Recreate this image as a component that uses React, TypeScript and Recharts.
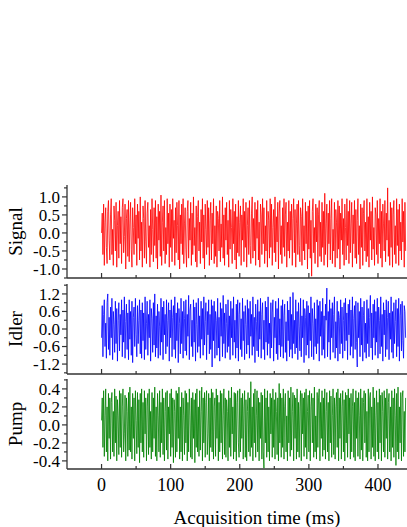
import { LineChart, Line, XAxis, YAxis, Label } from "recharts";

// three stacked noise traces sharing one time axis (one sample per ms)
const SAMPLE_MS = 1;

const signal = [
  0.0, 0.55, -0.6, 0.8, -0.9, 0.3, 0.7, -0.4, -0.85, 0.6, 0.9, -0.2, -0.75, 0.5, 0.95, -0.6, 0.1, -0.9, 0.75, 0.35,
  -0.5, 0.85, -0.95, 0.2, 0.6, -0.7, 0.9, -0.3, 0.45, -0.85, 0.7, 0.95, -0.55, -0.1, 0.8, -1.0, 0.4, 0.65, -0.65, 0.9,
  -0.8, 0.25, 0.85, -0.45, -0.95, 0.7, 0.15, -0.6, 0.95, -0.3, 0.5, -0.9, 0.8, -0.15, 0.6, -0.75, 1.0, -0.5, 0.3, -0.95,
  0.75, 0.4, -0.7, 0.9, -0.25, -0.85, 0.55, 0.85, -0.4, 0.2, -0.95, 0.65, -0.6, 0.95, 0.1, -0.8, 0.7, -0.35, 0.9, -0.7,
  0.45, -1.0, 0.8, -0.2, 0.6, -0.65, 1.05, -0.9, 0.3, 0.75, -0.5, 0.9, -0.85, 0.15, -0.6, 0.95, -0.3, 0.55, -0.95, 0.8,
  -0.4, 0.65, -0.8, 0.95, -0.15, 0.35, -0.9, 0.7, -0.55, 0.85, 0.2, -0.75, 0.9, -1.0, 0.5, -0.3, 0.8, -0.6, 0.95, -0.85,
  0.25, 0.7, -0.45, -0.95, 0.6, 0.9, -0.7, 0.4, -0.2, 0.85, -0.9, 0.55, -0.6, 1.0, -0.35, 0.15, -0.8, 0.75, -0.95, 0.45,
  0.9, -0.5, 0.3, -0.85, 0.65, -0.25, 0.95, -0.7, 0.5, -1.0, 0.8, 0.1, -0.6, 0.9, -0.4, 0.7, -0.9, 0.35, 0.85, -0.75,
  0.55, -0.3, 0.95, -0.85, 0.2, -0.65, 0.75, -0.95, 0.6, 0.4, -0.5, 0.9, -0.8, 0.25, -0.4, 1.0, -0.7, 0.5, -0.9, 0.7,
  -0.2, 0.85, -0.6, 0.35, -0.95, 0.9, -0.45, 0.65, 0.15, -0.85, 0.95, -0.3, 0.6, -0.75, 0.8, -1.0, 0.45, -0.55, 0.9, -0.65,
  0.3, 0.75, -0.9, 0.5, -0.2, 0.95, -0.8, 0.6, -0.4, 0.85, -0.95, 0.2, 0.7, -0.6, 0.9, -0.35, -0.85, 0.55, 1.0, -0.7,
  0.4, -0.5, 0.85, -0.9, 0.65, -0.15, 0.9, -0.75, 0.3, -0.95, 0.8, 0.5, -0.6, 0.95, -0.3, 0.7, -0.85, 0.2, -0.5, 0.9,
  -0.95, 0.6, 0.35, -0.7, 0.95, -0.4, 0.8, -0.9, 0.15, 0.65, -0.55, 1.0, -0.8, 0.45, -0.25, 0.85, -1.0, 0.55, 0.9, -0.6,
  0.2, -0.85, 0.7, -0.4, 0.95, -0.65, 0.5, 0.85, -0.95, 0.3, -0.5, 0.9, -0.7, 0.6, -0.2, 0.8, -0.9, 0.4, 0.95, -0.55,
  0.65, -0.95, 0.25, 0.8, -0.6, 0.9, -0.35, -0.8, 0.7, 0.45, -0.9, 0.95, -0.5, 0.2, -0.75, 0.85, -0.3, 0.6, -1.0, 0.75,
  -0.45, 0.9, -0.7, 0.35, -1.2, 0.6, 0.95, -0.55, 0.15, -0.85, 0.8, -0.25, 0.7, -0.95, 0.5, 0.9, -0.65, 0.3, -0.8, 0.85,
  -0.4, 0.6, -0.9, 1.1, -0.6, 0.25, 0.8, -0.95, 0.55, -0.3, 0.9, -0.75, 0.4, 0.95, -0.85, 0.1, -0.5, 0.85, -0.95, 0.65,
  0.3, -0.7, 0.9, -0.45, 0.75, -1.0, 0.55, -0.2, 0.95, -0.6, 0.4, -0.9, 0.8, 0.15, -0.75, 0.95, -0.35, 0.6, -0.85, 0.9,
  -0.55, 0.25, 0.85, -0.95, 0.5, -0.3, 0.9, -0.7, 0.65, -0.85, 0.35, 0.95, -0.6, 0.2, -1.0, 0.8, -0.4, 0.7, -0.9, 0.55,
  0.9, -0.5, 0.3, -0.8, 0.95, -0.65, 0.45, -0.95, 0.85, -0.2, 0.6, -0.75, 1.0, -0.45, 0.15, -0.9, 0.7, 0.5, -0.6, 0.9,
  -0.85, 0.4, -0.3, 0.95, -0.7, 0.6, -0.95, 0.8, 0.25, -0.5, 0.9, -0.8, 0.55, -0.2, 1.25, -0.65, 0.35, -0.9, 0.85, -0.4,
  0.7, -0.95, 0.5, 0.9, -0.6, 0.2, -0.85, 0.95, -0.35, 0.65, -0.9, 0.8, -0.5, 0.3, -0.75, 0.95, -0.25, 0.6, -0.95, 0.85,
  -0.5,
];

const idler = [
  -0.3, 0.8, -0.95, 0.5, 1.0, -0.6, 0.2, -1.0, 0.9, 1.2, -0.7, 0.4, -0.9, 0.75, -0.3, 1.05, -1.05, 0.6, 0.15, -0.8,
  0.95, -0.5, 0.7, -1.1, 0.3, 0.9, -0.75, 0.5, -0.2, 1.0, -0.95, 0.65, -0.45, 1.1, -1.0, 0.25, 0.85, -0.7, 0.55, -1.05,
  1.0, -0.35, 0.6, -0.9, 0.95, -1.15, 0.4, 0.75, -0.6, 1.05, -0.2, -0.95, 0.8, -0.5, 0.3, 1.0, -0.85, 0.65, -1.0, 0.9,
  -0.4, 0.55, -1.05, 1.1, -0.7, 0.2, 0.95, -0.9, 0.5, -0.3, 1.0, -1.1, 0.7, 0.35, -0.8, 0.9, -0.55, 1.2, -0.95, 0.45,
  -0.65, 0.85, -1.0, 0.6, 0.1, -0.9, 1.05, -0.45, 0.75, -1.05, 0.95, -0.2, 0.5, -0.85, 1.0, -0.6, 0.3, 0.9, -1.1, 0.65,
  -0.3, 1.0, -0.95, 0.4, 0.8, -0.7, 1.1, -1.0, 0.55, -0.4, 0.9, -1.15, 0.7, 0.2, -0.85, 1.05, -0.5, 0.6, -1.0, 0.95,
  0.35, -0.75, 1.0, -0.9, 0.5, -0.25, 1.15, -1.05, 0.65, 0.85, -0.6, 0.3, -0.95, 1.0, -0.45, 0.75, -1.1, 0.9, 0.15, -0.8,
  1.05, -0.6, 0.45, -1.0, 0.95, -0.35, 0.7, -0.9, 1.1, -0.55, 0.25, 0.9, -1.05, 0.6, -0.2, 1.0, -0.85, 0.5, -0.7, 1.0,
  -1.3, 0.8, -0.4, 0.95, -1.0, 0.6, 0.3, -0.9, 1.05, -0.65, 0.4, -1.1, 0.9, -0.25, 0.7, -0.95, 1.15, -0.5, 0.55, -1.0,
  0.85, 0.2, -0.8, 1.0, -0.6, 0.45, -1.05, 0.95, -0.3, 0.7, -0.9, 1.1, -0.45, 0.3, -1.0, 0.85, -0.65, 1.0, -1.1, 0.5,
  0.9, -0.7, 0.35, -0.95, 1.05, -0.4, 0.6, -1.05, 0.8, 0.15, -0.85, 1.0, -0.55, 0.7, -1.0, 0.95, -0.25, 0.5, -0.9, 1.1,
  -0.6, 0.4, -1.15, 0.85, 0.25, -0.75, 1.0, -0.95, 0.6, -0.35, 1.05, -1.0, 0.5, 0.9, -0.7, 0.3, -1.05, 0.95, -0.45, 0.75,
  -0.9, 1.1, -0.5, 0.2, -1.0, 0.9, -0.65, 0.55, 1.0, -1.1, 0.4, -0.3, 0.95, -0.85, 0.7, -1.05, 1.05, -0.55, 0.35, -0.95,
  0.8, -0.6, 1.0, -1.0, 0.45, 0.85, -0.8, 0.25, -1.1, 0.95, -0.4, 0.65, -0.95, 1.1, -0.7, 0.5, -1.0, 1.25, -0.5, 0.3,
  -0.85, 1.0, -0.65, 0.6, -1.05, 0.9, 0.1, -0.75, 1.05, -0.95, 0.45, -0.3, 1.0, -1.15, 0.7, 0.4, -0.9, 0.95, -0.55, 0.8,
  -1.0, 0.55, -0.4, 1.1, -0.95, 0.7, 0.2, -1.05, 0.9, -0.6, 0.35, -0.85, 1.0, -0.5, 0.8, -1.1, 0.95, -0.25, 0.6, -0.9,
  1.05, -0.7, 0.45, -1.0, 0.85, 0.3, 1.4, -0.95, 0.6, -0.45, 1.0, -1.05, 0.7, -0.3, 0.9, -0.8, 0.5, 1.1, -1.0, 0.25,
  -0.65, 0.95, -1.1, 0.6, 0.4, -0.85, 1.0, -0.5, 0.75, -1.0, 0.3, 0.9, -0.75, 1.05, -0.4, 0.55, -1.05, 0.85, -0.2, 1.0,
  -0.9, 0.65, -0.6, 1.1, -1.0, 0.35, 0.8, -0.7, 0.95, -0.45, -1.3, 0.9, -0.3, 0.6, -0.95, 1.05, -0.55, 0.75, -1.1, 0.45,
  0.95, -0.8, 0.2, -1.0, 1.0, -0.5, 0.7, -0.95, 0.4, 1.15, -0.65, 0.55, -1.05, 0.85, -0.3, 1.0, -0.9, 0.6, -0.45, 1.05,
  -1.0, 0.75, 0.3, -0.85, 1.1, -0.6, 0.5, -1.1, 0.9, -0.2, 0.65, -0.95, 1.0, -0.7, 0.4, 0.95, -1.05, 0.55, -0.35, 1.1,
  -0.8, 0.6, -1.0, 0.9, -0.5, 0.25, 1.0, -0.95, 0.7, -0.6, 1.05, -1.1, 0.45, 0.85, -0.75, 0.95, -0.4, -1.0, 0.8, 0.6,
  -0.3,
];

const pump = [
  0.05, 0.3, -0.25, 0.38, -0.35, 0.1, 0.4, -0.3, 0.2, -0.4, 0.35, -0.15, 0.3, -0.38, 0.25, 0.36, -0.3, 0.15, -0.35, 0.4,
  -0.2, 0.32, -0.4, 0.28, 0.1, -0.33, 0.38, -0.25, 0.35, -0.36, 0.2, 0.4, -0.3, -0.1, 0.33, -0.4, 0.3, 0.15, -0.35, 0.36,
  -0.28, 0.42, -0.3, 0.2, -0.38, 0.35, -0.15, 0.3, -0.4, 0.38, 0.05, -0.32, 0.36, -0.25, 0.28, -0.42, 0.35, -0.2, 0.4, -0.3,
  0.25, -0.36, 0.38, -0.1, 0.3, -0.4, 0.2, 0.35, -0.33, 0.4, -0.25, 0.15, -0.38, 0.36, -0.3, 0.3, -0.15, 0.42, -0.35, 0.2,
  -0.4, 0.35, 0.1, -0.3, 0.38, -0.36, 0.25, -0.2, 0.4, -0.33, 0.3, -0.4, 0.15, 0.36, -0.28, 0.38, -0.38, 0.2, -0.1, 0.35,
  -0.35, 0.4, -0.25, 0.3, -0.42, 0.28, 0.15, -0.36, 0.38, -0.3, 0.35, -0.15, 0.42, -0.38, 0.2, -0.3, 0.36, -0.4, 0.3, 0.1,
  -0.33, 0.38, -0.2, 0.35, -0.4, 0.25, -0.3, 0.4, 0.1, -0.36, 0.3, -0.38, 0.36, -0.15, 0.28, -0.42, 0.35, -0.25, 0.4, -0.3,
  0.2, -0.35, 0.38, -0.28, 0.15, 0.42, -0.4, 0.3, -0.2, 0.36, -0.36, 0.25, 0.38, -0.33, -0.1, 0.35, -0.4, 0.3, -0.25, 0.4,
  -0.3, 0.36, -0.38, 0.2, 0.3, -0.35, 0.4, -0.15, 0.33, -0.4, 0.25, -0.3, 0.38, -0.2, 0.35, -0.38, 0.1, 0.4, -0.33, 0.3,
  -0.36, 0.28, 0.15, -0.4, 0.38, -0.25, 0.3, -0.35, 0.42, -0.1, 0.2, -0.38, 0.36, -0.3, 0.35, -0.4, 0.25, 0.38, -0.2, -0.36,
  0.4, -0.3, 0.3, -0.15, 0.35, -0.38, 0.2, 0.38, -0.36, 0.28, -0.4, 0.15, 0.36, -0.3, 0.3, -0.35, 0.48, -0.25, 0.2, -0.4,
  0.35, -0.2, 0.4, -0.36, 0.1, 0.38, -0.3, 0.3, -0.4, 0.25, -0.15, 0.36, -0.38, 0.33, -0.3, -0.48, 0.4, -0.2, 0.3, -0.36,
  0.38, -0.3, 0.2, -0.4, 0.35, -0.1, 0.3, -0.36, 0.4, -0.25, 0.28, -0.38, 0.36, 0.15, -0.33, 0.3, -0.4, 0.46, -0.2, 0.35,
  -0.36, 0.3, -0.25, 0.4, -0.38, 0.2, 0.35, -0.3, 0.1, -0.4, 0.38, -0.2, 0.3, -0.35, 0.42, -0.28, 0.15, 0.36, -0.4, 0.33,
  -0.15, 0.3, -0.38, 0.4, -0.3, 0.25, -0.36, 0.2, 0.38, -0.4, 0.35, -0.1, 0.3, -0.35, 0.36, -0.25, 0.4, -0.38, 0.15, 0.33,
  -0.3, 0.38, -0.4, 0.2, 0.35, -0.2, 0.3, -0.36, 0.42, -0.3, 0.1, -0.38, 0.36, -0.25, 0.3, 0.4, -0.4, 0.25, -0.15, 0.38,
  -0.35, 0.3, -0.28, 0.4, -0.38, 0.15, 0.36, -0.3, 0.25, -0.4, 0.38, -0.2, 0.32, -0.36, 0.1, 0.4, -0.33, 0.3, -0.38, 0.2,
  0.36, -0.25, 0.4, -0.4, 0.3, -0.15, 0.35, -0.38, 0.2, 0.38, -0.3, 0.28, -0.4, 0.36, -0.2, 0.33, -0.36, 0.4, -0.1, 0.3,
  -0.38, 0.35, -0.3, 0.2, 0.4, -0.36, 0.25, -0.4, 0.38, -0.15, 0.3, -0.35, 0.36, 0.1, -0.38, 0.4, -0.28, 0.3, -0.4, 0.25,
  0.38, -0.2, 0.35, -0.36, 0.15, -0.4, 0.4, -0.3, 0.3, 0.36, -0.38, 0.2, -0.25, 0.42, -0.35, 0.3, -0.4, 0.1, 0.38, -0.3,
  0.25, -0.38, 0.4, -0.2, 0.33, -0.4, 0.36, 0.15, -0.3, 0.38, -0.36, 0.3, -0.15, 0.4, -0.38, 0.25, 0.35, -0.3, 0.2, -0.4,
  0.38, -0.25, 0.3, -0.36, 0.4, 0.1, -0.45, 0.35, -0.3, 0.42, -0.38, 0.2, -0.2, 0.36, -0.4, 0.3, 0.38, -0.35, 0.15, -0.3,
  0.3,
];

const timeTicks = [0, 50, 100, 150, 200, 250, 300, 350, 400];
const timeLabels = [0, 100, 200, 300, 400];

const signalTicks = [-1.25, -1, -0.75, -0.5, -0.25, 0, 0.25, 0.5, 0.75, 1, 1.25];
const signalLabels = [-1, -0.5, 0, 0.5, 1];
const idlerTicks = [-1.5, -1.2, -0.9, -0.6, -0.3, 0, 0.3, 0.6, 0.9, 1.2, 1.5];
const idlerLabels = [-1.2, -0.6, 0, 0.6, 1.2];
const pumpTicks = [-0.4, -0.3, -0.2, -0.1, 0, 0.1, 0.2, 0.3, 0.4, 0.5];
const pumpLabels = [-0.4, -0.2, 0, 0.2, 0.4];

const W = 407;
const H = 527;
const FONT = '"Liberation Serif", "Times New Roman", serif';
const AXIS = "#333";

const has = (list: number[], v: number) => list.some((l) => Math.abs(l - v) < 1e-6);

function toRows(values: number[]) {
  return values.map((v, i) => ({ t: i * SAMPLE_MS, v }));
}

function YTick({ x, y, payload, labels }: any) {
  const major = has(labels, payload.value);
  return (
    <g>
      <line x1={x - (major ? 5 : 3)} x2={x} y1={y} y2={y} stroke={AXIS} strokeWidth={1.2} />
      {major && (
        <text x={x - 7} y={y} dy="0.35em" textAnchor="end" fontSize={17} style={{ fontFamily: FONT }} fill="#000">
          {payload.value.toFixed(1)}
        </text>
      )}
    </g>
  );
}

function XTick({ x, y, payload, showLabels }: any) {
  const major = has(timeLabels, payload.value);
  return (
    <g>
      <line x1={x} x2={x} y1={y} y2={y - (major ? 5 : 3)} stroke={AXIS} strokeWidth={1.2} />
      {major && showLabels && (
        <text x={x} y={y + 16} dy="0.35em" textAnchor="middle" fontSize={18} style={{ fontFamily: FONT }} fill="#000">
          {payload.value}
        </text>
      )}
    </g>
  );
}

function Panel({
  values,
  color,
  name,
  domain,
  ticks,
  labels,
  top,
  bottom,
  xHeight,
  showXLabels,
}: {
  values: number[];
  color: string;
  name: string;
  domain: [number, number];
  ticks: number[];
  labels: number[];
  top: number;
  bottom: number;
  xHeight: number;
  showXLabels: boolean;
}) {
  return (
    <div style={{ position: "absolute", left: 0, top: 0 }}>
      <LineChart
        width={W}
        height={H}
        data={toRows(values)}
        margin={{ top, right: 0, bottom, left: 0 }}
      >
        <XAxis
          dataKey="t"
          type="number"
          domain={[-50, 442]}
          ticks={timeTicks}
          interval={0}
          allowDataOverflow
          height={xHeight}
          stroke={AXIS}
          strokeWidth={1.3}
          tickSize={0}
          tickMargin={0}
          tickLine={false}
          tick={<XTick showLabels={showXLabels} />}
        >
          {showXLabels && (
            <Label
              content={() => (
                <text x={257} y={517} dy="0.35em" textAnchor="middle" fontSize={19} style={{ fontFamily: FONT }} fill="#000">
                  Acquisition time (ms)
                </text>
              )}
            />
          )}
        </XAxis>
        <YAxis
          type="number"
          domain={domain}
          ticks={ticks}
          interval={0}
          allowDataOverflow
          width={67}
          stroke={AXIS}
          strokeWidth={1.3}
          tickSize={0}
          tickMargin={0}
          tickLine={false}
          tick={<YTick labels={labels} />}
        >
          <Label
            content={({ viewBox }: any) => {
              const cy = viewBox.y + viewBox.height / 2;
              return (
                <text
                  x={15}
                  y={cy}
                  dy="0.35em"
                  textAnchor="middle"
                  transform={`rotate(-90 15 ${cy})`}
                  fontSize={19}
                  style={{ fontFamily: FONT }}
                  fill="#000"
                >
                  {name}
                </text>
              );
            }}
          />
        </YAxis>
        <Line
          type="linear"
          dataKey="v"
          stroke={color}
          strokeWidth={0.8}
          dot={false}
          isAnimationActive={false}
        />
      </LineChart>
    </div>
  );
}

export default function App() {
  return (
    <div style={{ position: "absolute", left: 0, top: 0, width: W, height: H, background: "#fff" }}>
      <Panel values={signal} color="#ff0000" name="Signal" domain={[-1.25, 1.33]} ticks={signalTicks} labels={signalLabels} top={185} bottom={248} xHeight={1} showXLabels={false} />
      <Panel values={idler} color="#0000ff" name="Idler" domain={[-1.54, 1.54]} ticks={idlerTicks} labels={idlerLabels} top={284} bottom={152} xHeight={1} showXLabels={false} />
      <Panel values={pump} color="#008000" name="Pump" domain={[-0.49, 0.51]} ticks={pumpTicks} labels={pumpLabels} top={379} bottom={0} xHeight={58} showXLabels={true} />
    </div>
  );
}
